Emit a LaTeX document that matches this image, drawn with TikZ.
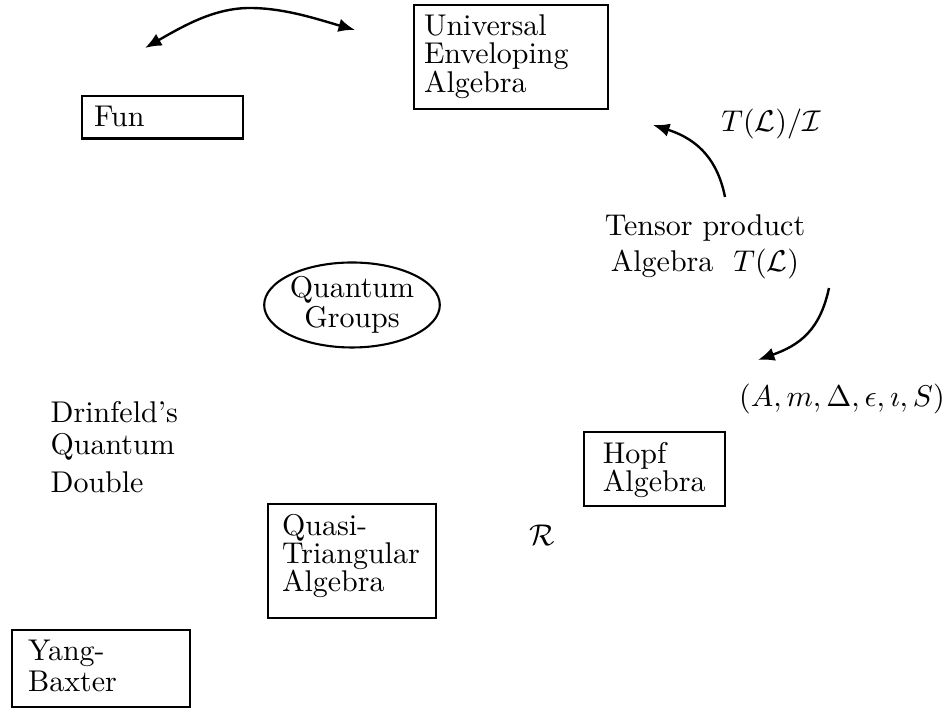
\documentclass[tikz,border=0pt]{standalone}
\usepackage{tikz}
\usetikzlibrary{arrows.meta,shapes.geometric}

\tikzset{
	framed/.style={draw, line width=0.7pt, anchor=north west, align=left, inner ysep=3.33pt, font=\linespread{0.78}\selectfont},
	plain/.style={inner sep=0pt},
	curly/.style={line width=0.8pt},
	>={Latex[length=5.5pt,width=4.5pt]},
}

\begin{document}
\begin{tikzpicture}[x=0.33333pt, y=-0.33333pt]
		%%%%% START %%%%%
		\useasboundingbox (0, 0) rectangle (949, 708);
		
		\node[framed, inner xsep=3.33pt, text width=58pt, text depth=21.1pt] (uea) at (413, 4) {Universal\\Enveloping\\Algebra};
		\node[framed, inner xsep=4pt, text width=45.67pt, text depth=0.7pt] (fun) at (81, 95) {Fun};
		
		\node[plain] (tli) at (771, 124) {$T(\mathcal{L})/\mathcal{I}$};
		\node[plain, anchor=north, align=center] (tens) at (705, 214) {Tensor product\\Algebra~ $T(\mathcal{L})$};
		
		\node[draw, ellipse, line width=0.7pt, inner sep=0pt, minimum width=53.67pt, minimum height=28.33pt, align=center, font=\linespread{0.83}\selectfont] (qg) at (352, 305) {Quantum\\Groups};
		
		\node[plain] (hdata) at (842, 399) {$(A, m, \Delta, \epsilon, \imath, S)$};
		\node[plain, anchor=north west, align=left, font=\linespread{0.89}\selectfont] (drin) at (50, 401) {Drinfeld's\\Quantum\\[2pt]Double};
		
		\node[framed, inner xsep=6.3pt, text width=34.4pt, text depth=11pt] (hopf) at (583, 431) {Hopf\\Algebra};
		\node[plain] (rmat) at (542, 535) {$\mathcal{R}$};
		\node[framed, inner xsep=4.67pt, text width=46.67pt, text depth=24.2pt] (quasi) at (267, 503) {Quasi-\\Triangular\\Algebra};
		\node[framed, inner xsep=5.33pt, text width=48.67pt, text depth=12.2pt, font=\linespread{0.86}\selectfont] (yang) at (11, 629) {Yang-\\Baxter};
		
		% free arrow ends
		\coordinate (funtip) at (145, 48);
		\coordinate (ueatip) at (355, 30);
		\coordinate (top) at (250, 8);
		\coordinate (tenstop) at (725, 197);
		\coordinate (tlitip) at (653, 125);
		\coordinate (tensbot) at (829, 288);
		\coordinate (hdatatip) at (758, 360);
		
		\draw[curly, <->] (funtip) .. controls (185, 25) and (215, 8) .. (top) .. controls (285, 8) and (320, 20) .. (ueatip);
		\draw[curly, ->] (tenstop) .. controls (718, 162) and (700, 140) .. (tlitip);
		\draw[curly, ->] (tensbot) .. controls (820, 330) and (800, 345) .. (hdatatip);
		
		%%%%% END %%%%%
	\end{tikzpicture}
\end{document}
